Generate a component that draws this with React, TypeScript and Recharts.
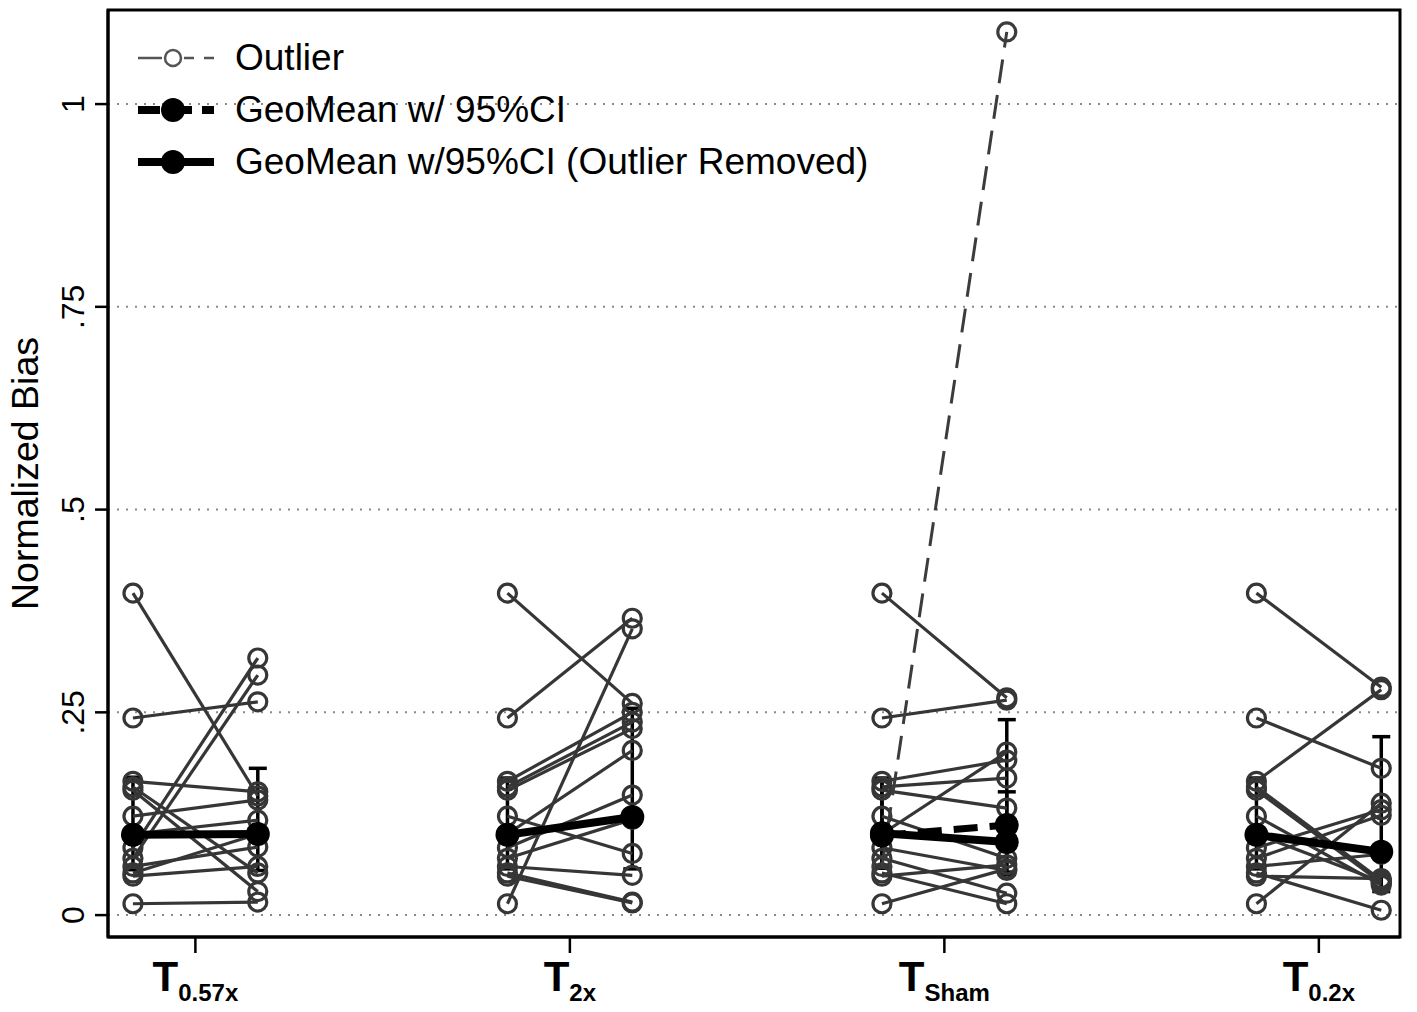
import React from "react";
import {
  ComposedChart,
  Scatter,
  XAxis,
  YAxis,
  CartesianGrid,
  ErrorBar,
  ReferenceArea,
  Legend,
} from "recharts";

const FONT = '"Liberation Sans", Arial, Helvetica, sans-serif';

// conditions (subscript of T)
const GROUPS = ["0.57x", "2x", "Sham", "0.2x"];

// normalized bias at baseline, same subjects in every condition
const BASELINE = [0.397, 0.243, 0.165, 0.158, 0.154, 0.122, 0.1, 0.083, 0.07, 0.06, 0.052, 0.048, 0.014];

// normalized bias after each condition, same subject order
const POST_057 = [0.147, 0.263, 0.152, 0.052, 0.029, 0.142, 0.117, 0.317, 0.296, 0.084, 0.1, 0.06, 0.016];
const POST_2 = [0.261, 0.366, 0.25, 0.238, 0.23, 0.076, 0.203, 0.148, 0.118, 0.049, 0.016, 0.015, 0.353];
const POST_SHAM = [0.268, 0.265, 0.191, 0.169, 0.132, 0.07, 0.201, 0.055, 0.027, 1.089, 0.014, 0.062, 0.057];
const POST_02 = [0.281, 0.181, 0.278, 0.043, 0.04, 0.037, 0.041, 0.13, 0.123, 0.075, 0.006, 0.045, 0.138];
const POST = [POST_057, POST_2, POST_SHAM, POST_02];

// the one outlier: subject index 9 in the Sham condition
const OUTLIER_GROUP = 2;
const OUTLIER_SUBJECT = 9;

// geometric mean with 95% CI, outlier removed
const GM_PRE = [0.099, 0.099, 0.101, 0.099];
const GM_PRE_LO = [0.056, 0.057, 0.058, 0.057];
const GM_PRE_HI = [0.17, 0.169, 0.169, 0.169];
const GM_POST = [0.1, 0.121, 0.09, 0.078];
const GM_POST_LO = [0.055, 0.057, 0.053, 0.029];
const GM_POST_HI = [0.181, 0.255, 0.152, 0.22];

// geometric mean with 95% CI, outlier kept (Sham only)
const GM_ALL = [0.098, 0.111];
const GM_ALL_LO = [0.058, 0.05];
const GM_ALL_HI = [0.166, 0.241];

const Y_TICKS = [0, 0.25, 0.5, 0.75, 1];
const Y_TICK_LABELS = ["0", ".25", ".5", ".75", "1"];
const X_TICKS = [0.5, 3.5, 6.5, 9.5];

const LEGEND_ITEMS = [
  { label: "Outlier", kind: "outlier" },
  { label: "GeoMean w/ 95%CI", kind: "dashed" },
  { label: "GeoMean w/95%CI (Outlier Removed)", kind: "solid" },
];

const GRAY = "#363636";

const pos = (g: number, k: number) => g * 3 + k;

const gmPoint = (x: number, y: number, lo: number, hi: number) => ({
  x,
  y,
  err: [y - lo, hi - y],
});

const HollowDot = (p: any) => (
  <circle cx={p.cx} cy={p.cy} r={9} fill="none" stroke={GRAY} strokeWidth={3.2} />
);
const OutlierDot = (p: any) => (
  <circle cx={p.cx} cy={p.cy} r={9} fill="none" stroke="#3c3c3c" strokeWidth={3.2} />
);
const BlackDot = (p: any) => <circle cx={p.cx} cy={p.cy} r={12} fill="#000" />;

function YTick({ x, y, payload }: any) {
  const i = Y_TICKS.indexOf(payload.value);
  return (
    <text
      x={x}
      y={y}
      transform={`rotate(-90 ${x} ${y})`}
      textAnchor="middle"
      fontFamily={FONT}
      fontSize={32}
      fill="#000"
    >
      {Y_TICK_LABELS[i]}
    </text>
  );
}

function XTick({ x, y, payload }: any) {
  const i = X_TICKS.indexOf(payload.value);
  return (
    <text x={x} y={y + 36} textAnchor="middle" fontFamily={FONT} fontWeight="bold" fill="#000">
      <tspan fontSize={42}>T</tspan>
      <tspan fontSize={24} dy={10}>
        {GROUPS[i]}
      </tspan>
    </text>
  );
}

function LegendSymbol({ kind }: { kind: string }) {
  if (kind === "outlier") {
    return (
      <svg width={80} height={30}>
        <line x1={2} y1={15} x2={26} y2={15} stroke="#555" strokeWidth={2.5} />
        <line x1={48} y1={15} x2={78} y2={15} stroke="#555" strokeWidth={2.5} strokeDasharray="10 10" />
        <circle cx={37} cy={15} r={8} fill="none" stroke="#555" strokeWidth={2.5} />
      </svg>
    );
  }
  return (
    <svg width={80} height={30}>
      <line
        x1={2}
        y1={15}
        x2={78}
        y2={15}
        stroke="#000"
        strokeWidth={8}
        strokeDasharray={kind === "dashed" ? "22 10" : undefined}
      />
      <circle cx={37} cy={15} r={12} fill="#000" />
    </svg>
  );
}

function LegendBox() {
  return (
    <div style={{ fontFamily: FONT, fontSize: 37, color: "#000" }}>
      {LEGEND_ITEMS.map((it) => (
        <div key={it.label} style={{ display: "flex", alignItems: "center", height: 52 }}>
          <LegendSymbol kind={it.kind} />
          <span style={{ marginLeft: 19, whiteSpace: "nowrap" }}>{it.label}</span>
        </div>
      ))}
    </div>
  );
}

export default function App() {
  const subjectSeries: { key: string; data: { x: number; y: number }[] }[] = [];
  POST.forEach((post, g) => {
    post.forEach((v, s) => {
      if (g === OUTLIER_GROUP && s === OUTLIER_SUBJECT) return;
      subjectSeries.push({
        key: `s-${g}-${s}`,
        data: [
          { x: pos(g, 0), y: BASELINE[s] },
          { x: pos(g, 1), y: v },
        ],
      });
    });
  });

  const outlierData = [
    { x: pos(OUTLIER_GROUP, 0), y: BASELINE[OUTLIER_SUBJECT] },
    { x: pos(OUTLIER_GROUP, 1), y: POST[OUTLIER_GROUP][OUTLIER_SUBJECT] },
  ];

  const gmSeries = GROUPS.map((_, g) => ({
    key: `gm-${g}`,
    data: [
      gmPoint(pos(g, 0), GM_PRE[g], GM_PRE_LO[g], GM_PRE_HI[g]),
      gmPoint(pos(g, 1), GM_POST[g], GM_POST_LO[g], GM_POST_HI[g]),
    ],
  }));

  const gmAllData = [
    gmPoint(pos(OUTLIER_GROUP, 0), GM_ALL[0], GM_ALL_LO[0], GM_ALL_HI[0]),
    gmPoint(pos(OUTLIER_GROUP, 1), GM_ALL[1], GM_ALL_LO[1], GM_ALL_HI[1]),
  ];

  return (
    <div style={{ position: "absolute", left: 0, top: 0, width: 1417, height: 1012, background: "#fff" }}>
      <ComposedChart width={1417} height={1012} margin={{ top: 10, right: 17, bottom: 0, left: 0 }}>
        <CartesianGrid horizontal vertical={false} stroke="#8a8a8a" strokeWidth={2} strokeDasharray="2 7" />
        <XAxis
          type="number"
          dataKey="x"
          domain={[-0.2, 10.15]}
          ticks={X_TICKS}
          allowDataOverflow
          height={75}
          tickSize={16}
          tickLine={{ stroke: "#000", strokeWidth: 2.5 }}
          axisLine={{ stroke: "#000", strokeWidth: 3 }}
          tick={<XTick />}
        />
        <YAxis
          type="number"
          dataKey="y"
          domain={[-0.027, 1.116]}
          ticks={Y_TICKS}
          allowDataOverflow
          width={108}
          tickSize={13}
          tickMargin={11}
          tickLine={{ stroke: "#000", strokeWidth: 2.5 }}
          axisLine={{ stroke: "#000", strokeWidth: 3 }}
          tick={<YTick />}
          label={{
            content: (props: any) => {
              const vb = props.viewBox;
              const cx = vb.x + 38;
              const cy = vb.y + vb.height / 2;
              return (
                <text
                  x={cx}
                  y={cy}
                  transform={`rotate(-90 ${cx} ${cy})`}
                  textAnchor="middle"
                  fontFamily={FONT}
                  fontSize={37.5}
                  fill="#000"
                >
                  Normalized Bias
                </text>
              );
            },
          }}
        />
        <ReferenceArea
          x1={-0.2}
          x2={10.15}
          y1={-0.027}
          y2={1.116}
          fill="none"
          stroke="#000"
          strokeWidth={3}
          ifOverflow="visible"
        />
        {subjectSeries.map((s) => (
          <Scatter
            key={s.key}
            data={s.data}
            line={{ stroke: GRAY, strokeWidth: 3.2 }}
            shape={HollowDot}
            legendType="none"
            isAnimationActive={false}
          />
        ))}
        <Scatter
          data={outlierData}
          line={{ stroke: "#3c3c3c", strokeWidth: 3, strokeDasharray: "24 12" }}
          shape={OutlierDot}
          legendType="none"
          isAnimationActive={false}
        />
        <Scatter
          data={gmAllData}
          line={{ stroke: "#000", strokeWidth: 7, strokeDasharray: "24 12" }}
          shape={BlackDot}
          legendType="none"
          isAnimationActive={false}
        >
          <ErrorBar dataKey="err" direction="y" width={9} stroke="#000" strokeWidth={3.5} />
        </Scatter>
        {gmSeries.map((s) => (
          <Scatter
            key={s.key}
            data={s.data}
            line={{ stroke: "#000", strokeWidth: 8 }}
            shape={BlackDot}
            legendType="none"
            isAnimationActive={false}
          >
            <ErrorBar dataKey="err" direction="y" width={9} stroke="#000" strokeWidth={3.5} />
          </Scatter>
        ))}
        <Legend
          layout="vertical"
          align="center"
          verticalAlign="middle"
          content={() => <LegendBox />}
          wrapperStyle={{ top: 32, left: 136, bottom: "auto", width: "auto" }}
        />
      </ComposedChart>
    </div>
  );
}
